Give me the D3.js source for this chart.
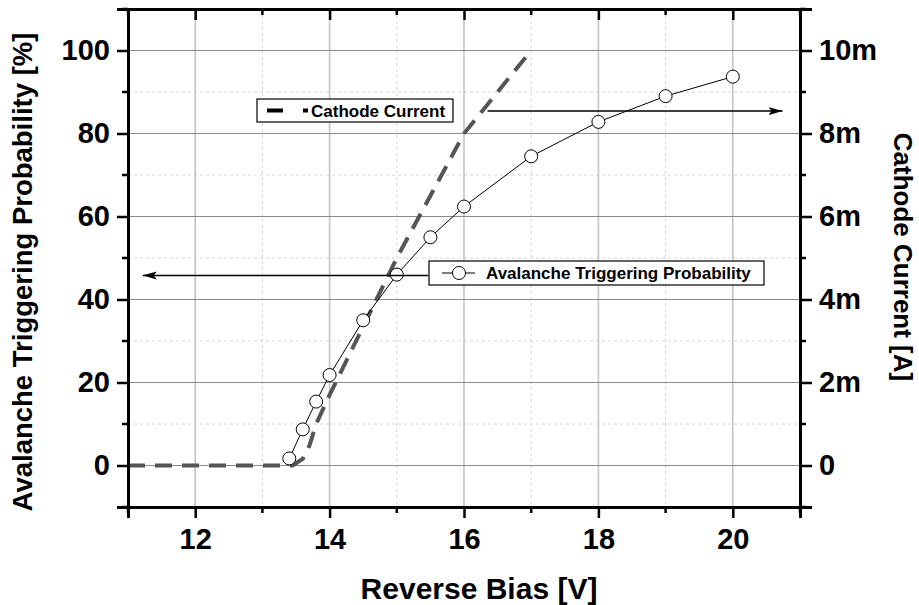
<!DOCTYPE html>
<html>
<head>
<meta charset="utf-8">
<script src="https://cdn.jsdelivr.net/npm/d3@7"></script>
<style>
    body { margin: 0; background: #fff; }
    text { font-family: "Liberation Sans", Arial, sans-serif; font-weight: bold; fill: #000; }
</style>
</head>
<body>
<div id="chart"></div>
<script>

// avalanche triggering probability (left axis, %)
const biasATP = [13.4, 13.6, 13.8, 14, 14.5, 15, 15.5, 16, 17, 18, 19, 20];
const triggerProb = [1.7, 8.7, 15.4, 21.8, 35, 46, 55, 62.4, 74.5, 82.8, 89, 93.7];

// cathode current (right axis, mA)
const biasCurrent = [11, 12, 13, 13.45, 13.6, 13.7, 13.8, 14, 14.5, 15, 15.5, 16, 16.5, 17];
const cathodeCurrent = [0, 0, 0, 0, 0.16, 0.48, 1.0, 1.7, 3.35, 5.0, 6.5, 8.0, 9.0, 10.0];

// ticks
const xMajor = [12, 14, 16, 18, 20];
const xMinor = [11, 13, 15, 17, 19, 21];
const yMajor = [0, 20, 40, 60, 80, 100];
const yMinor = [-10, 10, 30, 50, 70, 90, 110];
const rMajor = [0, 2, 4, 6, 8, 10];

// arrows [fromX, toX, y] in data units of the left axis
const arrows = [
    [15.47, 11.22, 45.8],
    [16.35, 20.74, 85.4]
];

let margin = {top: 9, right: 119, bottom: 98, left: 128};
let width = 919 - margin.left - margin.right;
let height = 605 - margin.top - margin.bottom;

let svg = d3.select("#chart").append("svg")
    .attr("width", 919)
    .attr("height", 605);

let g = svg.append("g")
    .attr("transform", "translate(" + margin.left + "," + margin.top + ")");

// scales
let x = d3.scaleLinear().domain([11, 21]).range([0, width]);
let y = d3.scaleLinear().domain([-10, 110]).range([height, 0]);
let yR = d3.scaleLinear().domain([-1, 11]).range([height, 0]);

// grid, minor first (dashed), then major
g.append("g").selectAll("line").data(xMinor).join("line")
    .attr("x1", d => x(d)).attr("x2", d => x(d))
    .attr("y1", 0).attr("y2", height)
    .attr("stroke", "#d4d4d4").attr("stroke-dasharray", "3,3");
g.append("g").selectAll("line").data(yMinor).join("line")
    .attr("x1", 0).attr("x2", width)
    .attr("y1", d => y(d)).attr("y2", d => y(d))
    .attr("stroke", "#d4d4d4").attr("stroke-dasharray", "3,3");
g.append("g").selectAll("line").data(xMajor).join("line")
    .attr("x1", d => x(d)).attr("x2", d => x(d))
    .attr("y1", 0).attr("y2", height)
    .attr("stroke", "#c4c4c4").attr("stroke-width", 1.6);
g.append("g").selectAll("line").data(yMajor).join("line")
    .attr("x1", 0).attr("x2", width)
    .attr("y1", d => y(d)).attr("y2", d => y(d))
    .attr("stroke", "#8a8a8a").attr("stroke-width", 1.2);

// cathode current - dashed
let lineR = d3.line()
    .x((d, i) => x(biasCurrent[i]))
    .y(d => yR(d));

g.append("path")
    .datum(cathodeCurrent)
    .attr("d", lineR)
    .attr("fill", "none")
    .attr("stroke", "#555")
    .attr("stroke-width", 4)
    .attr("stroke-dasharray", "17,10");

// avalanche probability - thin line with open circles
let lineL = d3.line()
    .x((d, i) => x(biasATP[i]))
    .y(d => y(d));

g.append("path")
    .datum(triggerProb)
    .attr("d", lineL)
    .attr("fill", "none")
    .attr("stroke", "#000")
    .attr("stroke-width", 1);

g.append("g").selectAll("circle").data(triggerProb).join("circle")
    .attr("cx", (d, i) => x(biasATP[i]))
    .attr("cy", d => y(d))
    .attr("r", 6.5)
    .attr("fill", "#fff")
    .attr("stroke", "#000")
    .attr("stroke-width", 1);

// arrowhead
svg.append("defs").append("marker")
    .attr("id", "arrow")
    .attr("viewBox", "0 0 14 10")
    .attr("refX", 14).attr("refY", 5)
    .attr("markerWidth", 14).attr("markerHeight", 10)
    .attr("markerUnits", "userSpaceOnUse")
    .attr("orient", "auto")
    .append("path")
    .attr("d", "M0,1 L14,5 L0,9 L3,5 Z")
    .attr("fill", "#000");

g.append("g").selectAll("line").data(arrows).join("line")
    .attr("x1", d => x(d[0])).attr("x2", d => x(d[1]))
    .attr("y1", d => y(d[2])).attr("y2", d => y(d[2]))
    .attr("stroke", "#000").attr("stroke-width", 1.5)
    .attr("marker-end", "url(#arrow)");

// legends
let leg1 = g.append("g").attr("transform", "translate(" + (257 - margin.left) + "," + (99 - margin.top) + ")");
leg1.append("rect").attr("width", 196).attr("height", 23)
    .attr("fill", "#fff").attr("stroke", "#000").attr("stroke-width", 1.2);
leg1.append("line").attr("x1", 10).attr("x2", 51).attr("y1", 11.5).attr("y2", 11.5)
    .attr("stroke", "#000").attr("stroke-width", 4).attr("stroke-dasharray", "16,20");
leg1.append("text").attr("x", 54).attr("y", 17.5)
    .style("font-size", "17px").text("Cathode Current");

let leg2 = g.append("g").attr("transform", "translate(" + (429 - margin.left) + "," + (261 - margin.top) + ")");
leg2.append("rect").attr("width", 335).attr("height", 24)
    .attr("fill", "#fff").attr("stroke", "#000").attr("stroke-width", 1.2);
leg2.append("line").attr("x1", 13).attr("x2", 46).attr("y1", 12).attr("y2", 12)
    .attr("stroke", "#000").attr("stroke-width", 1);
leg2.append("circle").attr("cx", 30).attr("cy", 12).attr("r", 6.5)
    .attr("fill", "#fff").attr("stroke", "#000");
leg2.append("text").attr("x", 57).attr("y", 18)
    .style("font-size", "17px").text("Avalanche Triggering Probability");

// axes
let xAxisBottom = d3.axisBottom(x).tickValues(xMajor).tickSize(11).tickPadding(10).tickFormat(d3.format("d"));
let xAxisTop = d3.axisTop(x).tickValues(xMajor).tickSize(-11).tickFormat("");
let yAxisLeft = d3.axisLeft(y).tickValues(yMajor).tickSize(11).tickPadding(7);
let yAxisRight = d3.axisRight(yR).tickValues(rMajor).tickSize(12).tickPadding(7)
    .tickFormat(d => d === 0 ? "0" : d + "m");

function styleAxis(sel) {
    sel.select(".domain").attr("stroke-width", 3);
    sel.selectAll(".tick line").attr("stroke-width", 2.5);
    sel.selectAll("text").style("font-size", "29px").style("font-weight", "bold")
        .style("font-family", "Liberation Sans, Arial, sans-serif");
}

g.append("g").attr("transform", "translate(0," + height + ")").call(xAxisBottom).call(styleAxis);
g.append("g").call(xAxisTop).call(styleAxis);
g.append("g").call(yAxisLeft).call(styleAxis);
g.append("g").attr("transform", "translate(" + width + ",0)").call(yAxisRight).call(styleAxis);

// minor ticks
let minorTicks = g.append("g").attr("stroke", "#000").attr("stroke-width", 2.5);
minorTicks.selectAll(".mb").data(xMinor).join("line").attr("class", "mb")
    .attr("x1", d => x(d)).attr("x2", d => x(d)).attr("y1", height).attr("y2", height + 6);
minorTicks.selectAll(".mt").data(xMinor).join("line").attr("class", "mt")
    .attr("x1", d => x(d)).attr("x2", d => x(d)).attr("y1", 0).attr("y2", 6);
minorTicks.selectAll(".ml").data(yMinor).join("line").attr("class", "ml")
    .attr("x1", -6).attr("x2", 0).attr("y1", d => y(d)).attr("y2", d => y(d));
minorTicks.selectAll(".mr").data(yMinor).join("line").attr("class", "mr")
    .attr("x1", width).attr("x2", width + 6).attr("y1", d => y(d)).attr("y2", d => y(d));

// axis titles
svg.append("text")
    .attr("x", margin.left + width / 2 + 15).attr("y", 599)
    .attr("text-anchor", "middle")
    .style("font-size", "30px")
    .text("Reverse Bias [V]");

svg.append("text")
    .attr("transform", "translate(32," + (margin.top + height / 2 + 14) + ") rotate(-90)")
    .attr("text-anchor", "middle")
    .style("font-size", "27.5px")
    .text("Avalanche Triggering Probability [%]");

svg.append("text")
    .attr("transform", "translate(894," + (margin.top + height / 2 - 1) + ") rotate(90)")
    .attr("text-anchor", "middle")
    .style("font-size", "26px")
    .text("Cathode Current [A]");

</script>
</body>
</html>
